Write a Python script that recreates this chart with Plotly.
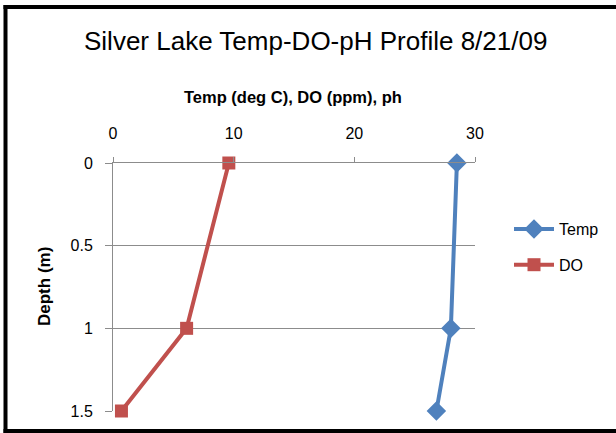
import plotly.graph_objects as go

depth = [0, 1, 1.5]
temp = [28.5, 28.0, 26.8]
do_ppm = [9.6, 6.1, 0.7]
x_ticks = [0, 10, 20, 30]
y_ticks = [0, 0.5, 1, 1.5]

FONT = "Liberation Sans, Arial"
BLUE = "#4F81BD"
RED = "#C0504D"
GRID = "#8C8C8C"

fig = go.Figure()
fig.add_trace(go.Scatter(
    x=temp, y=depth, name="Temp", mode="lines+markers", legendgroup="a",
    line=dict(color=BLUE, width=4), cliponaxis=False,
    marker=dict(symbol="diamond", size=15, color=BLUE),
))
fig.add_trace(go.Scatter(
    x=do_ppm, y=depth, name="DO", mode="lines+markers", legendgroup="b",
    line=dict(color=RED, width=4), cliponaxis=False,
    marker=dict(symbol="square", size=13, color=RED),
))

W, H = 616, 433
L, R, T, B = 113, 141, 163, 22
pw, ph = W - L - R, H - T - B

def px(x):
    return (x - L) / pw

def py(y):
    return 1 - (y - T) / ph

fig.update_layout(
    width=W, height=H,
    margin=dict(l=L, r=R, t=T, b=B, pad=0),
    paper_bgcolor="white", plot_bgcolor="white",
    font=dict(family=FONT, size=15, color="black"),
    showlegend=True,
    legend=dict(x=px(509), y=py(212), xanchor="left", yanchor="top",
                font=dict(family=FONT, size=16), tracegroupgap=12,
                itemwidth=40,
                bgcolor="rgba(0,0,0,0)"),
    xaxis=dict(range=[0, 30], tickvals=x_ticks, side="top",
               showgrid=False, zeroline=False,
               showline=True, linecolor=GRID, linewidth=1,
               ticks="outside", ticklen=5, tickcolor=GRID,
               ticklabelstandoff=12,
               tickfont=dict(family=FONT, size=16, color="black")),
    yaxis=dict(range=[1.5, 0], tickvals=y_ticks, ticktext=["0", "0.5", "1", "1.5"],
               showgrid=True, gridcolor=GRID, gridwidth=1, zeroline=False,
               showline=True, linecolor=GRID, linewidth=1,
               ticks="outside", ticklen=7, tickcolor=GRID,
               ticklabelstandoff=9,
               tickfont=dict(family=FONT, size=16, color="black")),
)

fig.add_annotation(text="Silver Lake Temp-DO-pH Profile 8/21/09",
                   xref="paper", yref="paper", x=px(315), y=py(41),
                   showarrow=False, xanchor="center", yanchor="middle",
                   font=dict(family=FONT, size=26, color="black"))
fig.add_annotation(text="<b>Temp (deg C), DO (ppm), ph</b>",
                   xref="paper", yref="paper", x=px(293), y=py(97),
                   showarrow=False, xanchor="center", yanchor="middle",
                   font=dict(family=FONT, size=16.5, color="black"))
fig.add_annotation(text="<b>Depth (m)</b>",
                   xref="paper", yref="paper", x=px(44), y=py(287),
                   showarrow=False, xanchor="center", yanchor="middle",
                   textangle=-90,
                   font=dict(family=FONT, size=17, color="black"))

# chart outer border (left, top, bottom edges visible)
for (x0, y0, x1, y1) in [(5.5, 5, 5.5, 433), (3.5, 7, 616, 7), (3.5, 431, 616, 431)]:
    fig.add_shape(type="line", xref="paper", yref="paper",
                  x0=px(x0), x1=px(x1), y0=py(y0), y1=py(y1),
                  line=dict(color="black", width=4), layer="above")

fig.write_html("out.html")
